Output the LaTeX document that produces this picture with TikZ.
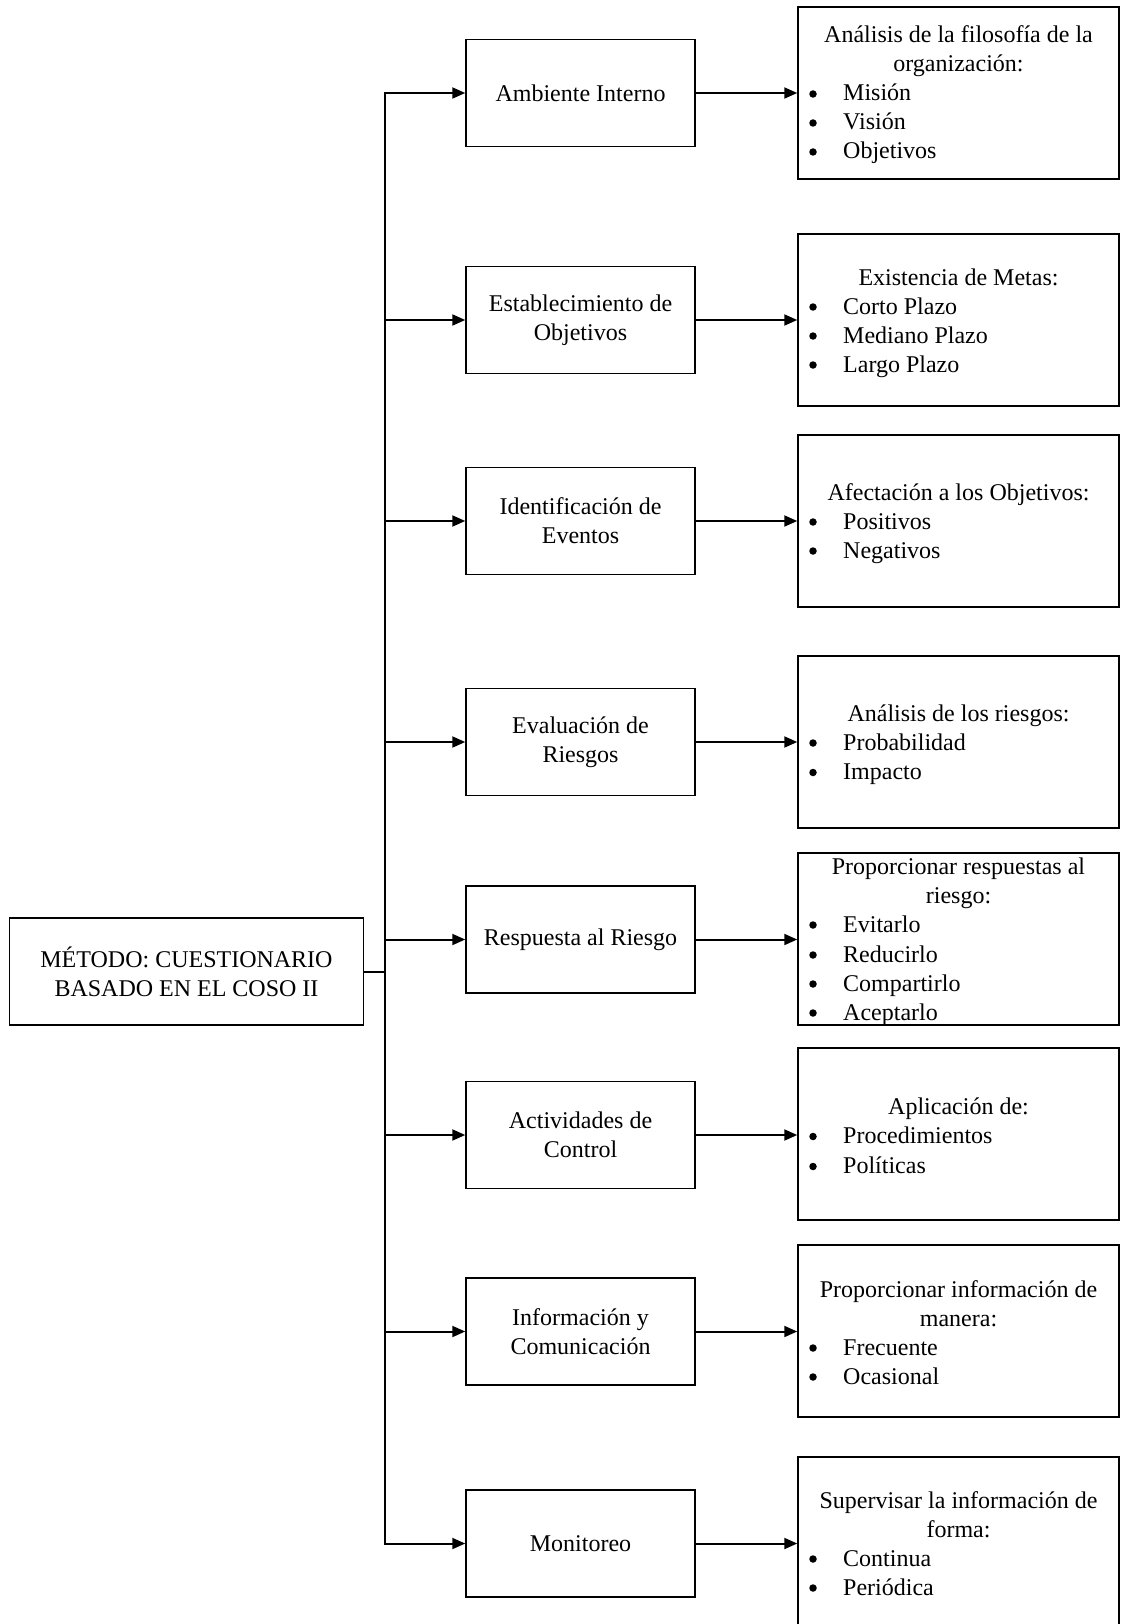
\documentclass[tikz,border=0pt]{standalone}
\usepackage{fontspec}
\setmainfont{Liberation Serif}
\usetikzlibrary{arrows.meta}
\begin{document}
\begin{tikzpicture}[x=1pt,y=-1pt,
  every node/.style={font=\fontsize{24}{29}\selectfont, text=black},
  boxm/.style={draw, line width=1.5pt, minimum width=229pt, minimum height=107pt, align=center, inner sep=0pt},
  boxl/.style={draw, line width=1.5pt, minimum width=354pt, minimum height=107pt, align=center, inner sep=0pt},
  boxr/.style={draw, line width=1.5pt, minimum width=321pt, minimum height=172pt, inner sep=0pt},
  ttl/.style={anchor=base, inner sep=0pt},
  bul/.style={circle, fill=black, inner sep=0pt, minimum size=7.5pt},
  itm/.style={anchor=base west, inner sep=0pt},
  conn/.style={line width=2pt, -{Triangle[length=13pt,width=11pt]}},
  trunk/.style={line width=2pt}
]
\useasboundingbox (0,0) rectangle (1121,1624);

% left box
\node[boxl] (L) at (186.5,971.5) {MÉTODO: CUESTIONARIO\\BASADO EN EL COSO II};
\coordinate (J) at (385,971.5);

% middle boxes
\node[boxm] (m1) at (580.5,93) {Ambiente Interno};
\node[boxm] (m2) at (580.5,320) {Establecimiento de\\Objetivos};
\node[boxm] (m3) at (580.5,521) {Identificación de\\Eventos};
\node[boxm] (m4) at (580.5,742) {Evaluación de\\Riesgos};
\node[boxm] (m5) at (580.5,939.5) {Respuesta al Riesgo};
\node[boxm] (m6) at (580.5,1135) {Actividades de\\Control};
\node[boxm] (m7) at (580.5,1331.5) {Información y\\Comunicación};
\node[boxm] (m8) at (580.5,1543.5) {Monitoreo};

% right boxes
\node[boxr] (r1) at (958.5,93) {};
\node[boxr] (r2) at (958.5,320) {};
\node[boxr] (r3) at (958.5,521) {};
\node[boxr] (r4) at (958.5,742) {};
\node[boxr] (r5) at (958.5,939) {};
\node[boxr] (r6) at (958.5,1134) {};
\node[boxr] (r7) at (958.5,1331) {};
\node[boxr] (r8) at (958.5,1543) {};

% connectors
\draw[trunk] (L.east) -- (J);
\foreach \m in {m1,m2,m3,m4,m5,m6,m7,m8}{
  \draw[conn] (J) |- (\m.west);
  \draw[conn] (\m.east) -- (\m.east -| r1.west);
}

% right box texts
% box 1
\node[ttl] (t1a) at (958.5,43) {Análisis de la filosofía de la};
\node[ttl] (t1b) at (958.5,72) {organización:};
\node[bul] (b1a) at (813,94) {}; \node[itm] (i1a) at (843,101) {Misión};
\node[bul] (b1b) at (813,123) {}; \node[itm] (i1b) at (843,130) {Visión};
\node[bul] (b1c) at (813,152) {}; \node[itm] (i1c) at (843,159) {Objetivos};
% box 2
\node[ttl] (t2a) at (958.5,285) {Existencia de Metas:};
\node[bul] (b2a) at (813,307) {}; \node[itm] (i2a) at (843,314) {Corto Plazo};
\node[bul] (b2b) at (813,336) {}; \node[itm] (i2b) at (843,343) {Mediano Plazo};
\node[bul] (b2c) at (813,365) {}; \node[itm] (i2c) at (843,372) {Largo Plazo};
% box 3
\node[ttl] (t3a) at (958.5,500) {Afectación a los Objetivos:};
\node[bul] (b3a) at (813,522) {}; \node[itm] (i3a) at (843,529) {Positivos};
\node[bul] (b3b) at (813,551) {}; \node[itm] (i3b) at (843,558) {Negativos};
% box 4
\node[ttl] (t4a) at (958.5,721) {Análisis de los riesgos:};
\node[bul] (b4a) at (813,743) {}; \node[itm] (i4a) at (843,750) {Probabilidad};
\node[bul] (b4b) at (813,772.5) {}; \node[itm] (i4b) at (843,779.5) {Impacto};
% box 5
\node[ttl] (t5a) at (958.5,874) {Proporcionar respuestas al};
\node[ttl] (t5b) at (958.5,903) {riesgo:};
\node[bul] (b5a) at (813,925) {}; \node[itm] (i5a) at (843,932) {Evitarlo};
\node[bul] (b5b) at (813,955) {}; \node[itm] (i5b) at (843,962) {Reducirlo};
\node[bul] (b5c) at (813,984) {}; \node[itm] (i5c) at (843,991) {Compartirlo};
\node[bul] (b5d) at (813,1013) {}; \node[itm] (i5d) at (843,1020) {Aceptarlo};
% box 6
\node[ttl] (t6a) at (958.5,1114.5) {Aplicación de:};
\node[bul] (b6a) at (813,1136.5) {}; \node[itm] (i6a) at (843,1143.5) {Procedimientos};
\node[bul] (b6b) at (813,1166.5) {}; \node[itm] (i6b) at (843,1173.5) {Políticas};
% box 7
\node[ttl] (t7a) at (958.5,1297) {Proporcionar información de};
\node[ttl] (t7b) at (958.5,1326) {manera:};
\node[bul] (b7a) at (813,1348) {}; \node[itm] (i7a) at (843,1355) {Frecuente};
\node[bul] (b7b) at (813,1377) {}; \node[itm] (i7b) at (843,1384) {Ocasional};
% box 8
\node[ttl] (t8a) at (958.5,1508) {Supervisar la información de};
\node[ttl] (t8b) at (958.5,1537) {forma:};
\node[bul] (b8a) at (813,1559) {}; \node[itm] (i8a) at (843,1566) {Continua};
\node[bul] (b8b) at (813,1588) {}; \node[itm] (i8b) at (843,1595) {Periódica};
\end{tikzpicture}
\end{document}
